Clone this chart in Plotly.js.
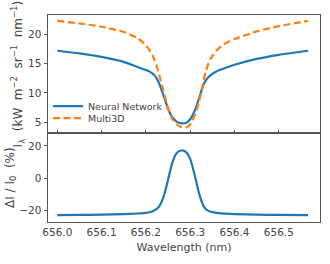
<!DOCTYPE html>
<html>
<head>
<meta charset="utf-8">
<script src="https://cdn.plot.ly/plotly-3.0.1.min.js"></script>
<style>html,body{margin:0;padding:0;background:#fff;}#chart{width:330px;height:264px;}</style>
</head>
<body>
<div id="chart"></div>
<script>
const wavelength = [656.00, 656.05, 656.10, 656.15, 656.18, 656.20, 656.21, 656.215, 656.22, 656.225, 656.23, 656.24, 656.25, 656.26, 656.27, 656.28, 656.29, 656.30, 656.31, 656.32, 656.33, 656.335, 656.34, 656.345, 656.35, 656.36, 656.38, 656.40, 656.45, 656.50, 656.566];
const neuralNetwork = [17.2, 16.75, 16.15, 15.3, 14.45, 13.9, 13.55, 13.3, 12.95, 12.4, 11.6, 9.5, 7.3, 5.8, 5.05, 4.8, 4.85, 5.5, 6.9, 9.1, 11.4, 12.1, 12.6, 12.95, 13.25, 13.7, 14.3, 14.8, 15.8, 16.5, 17.2];
const multi3D = [22.3, 21.85, 21.3, 20.4, 19.4, 18.1, 17.1, 16.4, 15.5, 14.4, 13.1, 10.2, 7.4, 5.5, 4.6, 4.15, 4.1, 4.6, 6.1, 8.5, 12.0, 13.6, 14.8, 15.7, 16.3, 17.3, 18.5, 19.2, 20.5, 21.4, 22.3];
const relDiff = [-23.0, -22.9, -22.7, -22.4, -22.0, -21.6, -21.1, -20.6, -19.9, -19.0, -17.6, -11.5, -1.0, 10.0, 15.8, 17.2, 16.4, 12.0, 2.0, -9.5, -17.3, -19.2, -20.2, -20.8, -21.2, -21.6, -22.1, -22.4, -22.7, -22.9, -23.0];
const xTicks = [656.0, 656.1, 656.2, 656.3, 656.4, 656.5];
const yTicksTop = [5, 10, 15, 20];
const yTicksBottom = [-20, 0, 20];

const blue = '#1f77b4', orange = '#ff7f0e';
const axisCol = '#555555', txtCol = '#444444';
const font = {family: 'DejaVu Sans, sans-serif', size: 10.5, color: txtCol};
const titleFont = {family: 'DejaVu Sans, sans-serif', size: 12, color: txtCol};
const legendFont = {family: 'DejaVu Sans, sans-serif', size: 9.5, color: txtCol};

const traces = [
  {x: wavelength, y: neuralNetwork, type: 'scatter', mode: 'lines', name: 'Neural Network',
   line: {color: blue, width: 2.2, shape: 'spline', smoothing: 0.6}, xaxis: 'x', yaxis: 'y', legend: 'legend'},
  {x: wavelength, y: multi3D, type: 'scatter', mode: 'lines', name: 'Multi3D',
   line: {color: orange, width: 2.2, dash: '7px,3.5px', shape: 'spline', smoothing: 0.6}, xaxis: 'x', yaxis: 'y', legend: 'legend2'},
  {x: wavelength, y: relDiff, type: 'scatter', mode: 'lines', name: 'diff', showlegend: false,
   line: {color: blue, width: 2.2, shape: 'spline', smoothing: 0.6}, xaxis: 'x2', yaxis: 'y2'}
];

const common = {showline: true, mirror: true, linecolor: axisCol, linewidth: 1, showgrid: false, zeroline: false,
  tickcolor: axisCol, ticklen: 3.5, tickwidth: 1, tickfont: font};
const split = 0.4285;
const layout = {
  width: 330, height: 264,
  margin: {l: 48, r: 10, t: 15, b: 42},
  paper_bgcolor: '#fff', plot_bgcolor: '#fff',
  font: font,
  xaxis: Object.assign({}, common, {domain: [0, 1], range: [655.979, 656.593], anchor: 'y',
    tickvals: xTicks, ticks: 'inside', showticklabels: false}),
  yaxis: Object.assign({}, common, {domain: [split, 1], range: [3.1, 23.3], anchor: 'x',
    tickvals: yTicksTop, ticks: 'outside',
    title: {text: 'I<sub>λ</sub>  (kW  m<sup>−2</sup>  sr<sup>−1</sup>  nm<sup>−1</sup>)', font: titleFont, standoff: 2}}),
  xaxis2: Object.assign({}, common, {domain: [0, 1], range: [655.979, 656.593], anchor: 'y2',
    tickvals: xTicks, ticktext: xTicks.map(v => v.toFixed(1)), ticks: '',
    title: {text: 'Wavelength (nm)', font: Object.assign({}, font, {size: 11}), standoff: 6}}),
  yaxis2: Object.assign({}, common, {domain: [0, split], range: [-27.3, 27.9], anchor: 'x2',
    tickvals: yTicksBottom, ticktext: ['−20', '0', '20'], ticks: 'outside',
    title: {text: 'ΔI / I<sub>0</sub>  (%)', font: titleFont, standoff: 2}}),
  legend: {x: 0.0, y: 0.56, xanchor: 'left', yanchor: 'middle', bgcolor: 'rgba(0,0,0,0)',
    font: legendFont, itemwidth: 30},
  legend2: {x: 0.0, y: 0.502, xanchor: 'left', yanchor: 'middle', bgcolor: 'rgba(0,0,0,0)',
    font: legendFont, itemwidth: 30},
  showlegend: true
};
Plotly.newPlot('chart', traces, layout, {displayModeBar: false, staticPlot: true});
</script>
</body>
</html>
